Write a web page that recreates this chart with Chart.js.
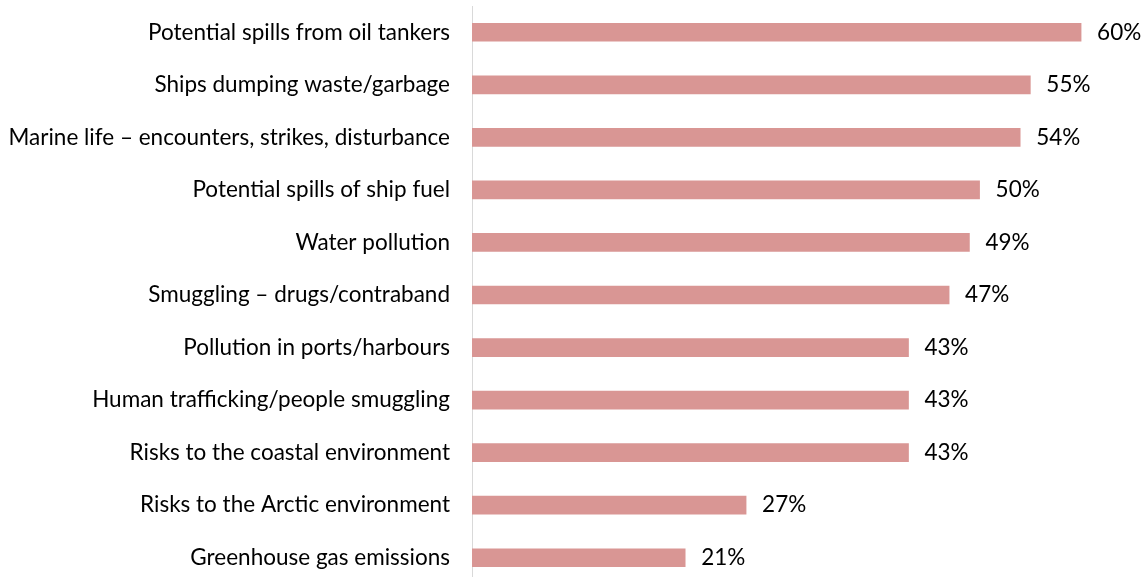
<!DOCTYPE html>
<html>
<head>
<meta charset="utf-8">
<script src="https://cdn.jsdelivr.net/npm/chart.js@4"></script>
<style>
  html, body { margin: 0; padding: 0; background: #fff; overflow: hidden; }
  /* plot runs a few pixels past the bottom edge, so the axis line reaches it */
  #wrap { width: 1142px; height: 584px; position: relative; }
</style>
</head>
<body>
<div id="wrap"><canvas id="concernsChart"></canvas></div>
<script>
const categories = [
    'Potential spills from oil tankers',
    'Ships dumping waste/garbage',
    'Marine life \u2013 encounters, strikes, disturbance',
    'Potential spills of ship fuel',
    'Water pollution',
    'Smuggling \u2013 drugs/contraband',
    'Pollution in ports/harbours',
    'Human trafficking/people smuggling',
    'Risks to the coastal environment',
    'Risks to the Arctic environment',
    'Greenhouse gas emissions'
];
const percentages = [60, 55, 54, 50, 49, 47, 43, 43, 43, 27, 21];

const fontSize = 22.5;

// write the value just past the end of each bar
const barValueLabels = {
    id: 'barValueLabels',
    afterDatasetsDraw(chart) {
        const ctx = chart.ctx;
        const meta = chart.getDatasetMeta(0);
        ctx.save();
        ctx.font = fontSize + 'px Lato';
        ctx.fillStyle = '#000';
        ctx.textAlign = 'left';
        ctx.textBaseline = 'middle';
        meta.data.forEach((bar, i) => {
            ctx.fillText(percentages[i] + '%', bar.x + 16, bar.y);
        });
        ctx.restore();
    }
};

new Chart(document.getElementById('concernsChart').getContext('2d'), {
    type: 'bar',
    data: {
        labels: categories,
        datasets: [{
            data: percentages,
            backgroundColor: '#d99694',
            barThickness: 18
        }]
    },
    options: {
        indexAxis: 'y',
        responsive: true,
        maintainAspectRatio: false,
        animation: false,
        layout: {
            padding: { top: 6, right: 0, bottom: 0, left: 0 }
        },
        plugins: {
            legend: { display: false },
            tooltip: { enabled: false }
        },
        scales: {
            x: {
                display: false,
                min: 0,
                max: 66
            },
            y: {
                grid: { display: false, drawTicks: false },
                border: { display: true, color: '#d9d9d9', width: 1 },
                ticks: {
                    color: '#000',
                    padding: 22,
                    font: { family: 'Lato', size: fontSize }
                },
                afterFit(scale) {
                    // fixed label column, no extra room above/below for the tick text
                    scale.width = 472;
                    scale.paddingTop = 0;
                    scale.paddingBottom = 0;
                }
            }
        }
    },
    plugins: [barValueLabels]
});
</script>
</body>
</html>
